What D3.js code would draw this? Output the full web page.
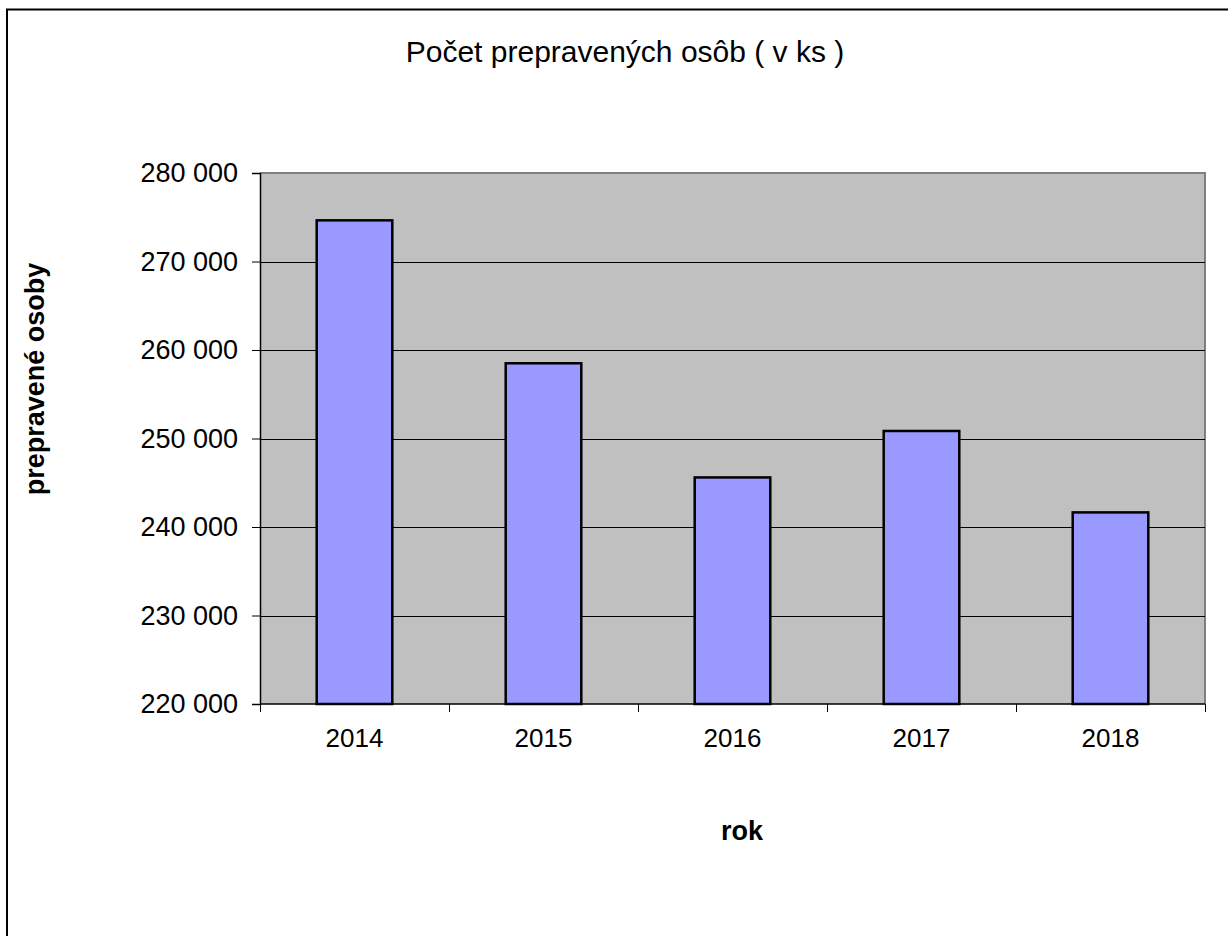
<!DOCTYPE html>
<html>
<head>
<meta charset="utf-8">
<script src="https://cdn.jsdelivr.net/npm/d3@7"></script>
<style>
  html, body { margin: 0; padding: 0; background: #fff; }
  svg text { font-family: "Liberation Sans", Arial, sans-serif; fill: #000; }
</style>
</head>
<body>
<div id="chart"></div>
<script>
// chart data
const years = ['2014', '2015', '2016', '2017', '2018'];
const passengers = [274650, 258500, 245600, 250850, 241650];
const yTicks = [220000, 230000, 240000, 250000, 260000, 270000, 280000];

const chartTitle = 'Počet prepravených osôb ( v ks )';
const xTitle = 'rok';
const yTitle = 'prepravené osoby';

const width = 1228, height = 936;
const plot = { left: 260, top: 173, right: 1205, bottom: 704 };

const svg = d3.select('#chart').append('svg')
    .attr('width', width)
    .attr('height', height);

// outer frame (only top and left edges visible)
svg.append('path')
    .attr('d', `M7,${height + 5} L7,9.5 L${width + 5},9.5`)
    .attr('fill', 'none')
    .attr('stroke', '#000')
    .attr('stroke-width', 2);

const x = d3.scaleBand()
    .domain(years)
    .range([plot.left, plot.right])
    .paddingInner(0.6)
    .paddingOuter(0.3);

const y = d3.scaleLinear()
    .domain([220000, 280000])
    .range([plot.bottom, plot.top]);

// plot background
svg.append('rect')
    .attr('x', plot.left)
    .attr('y', plot.top)
    .attr('width', plot.right - plot.left)
    .attr('height', plot.bottom - plot.top)
    .attr('fill', '#c0c0c0');

// grey border top/right
svg.append('path')
    .attr('d', `M${plot.left},${plot.top} L${plot.right},${plot.top} L${plot.right},${plot.bottom}`)
    .attr('fill', 'none')
    .attr('stroke', '#808080')
    .attr('stroke-width', 2);

// gridlines
svg.append('g')
    .selectAll('line')
    .data(yTicks.slice(1, -1))
    .join('line')
    .attr('x1', plot.left)
    .attr('x2', plot.right)
    .attr('y1', d => Math.round(y(d)) + 0.5)
    .attr('y2', d => Math.round(y(d)) + 0.5)
    .attr('stroke', '#000')
    .attr('stroke-width', 1);

// bars
svg.append('g')
    .selectAll('rect')
    .data(years)
    .join('rect')
    .attr('x', d => x(d))
    .attr('y', (d, i) => y(passengers[i]))
    .attr('width', x.bandwidth())
    .attr('height', (d, i) => y(220000) - y(passengers[i]))
    .attr('fill', '#9999ff')
    .attr('stroke', '#000')
    .attr('stroke-width', 2.5);

// y axis
const yAxis = svg.append('g')
    .attr('transform', `translate(${plot.left},0)`)
    .call(d3.axisLeft(y)
        .tickValues(yTicks)
        .tickSize(8)
        .tickPadding(14)
        .tickFormat(d => d3.format(',')(d).replace(/,/g, ' ')));
yAxis.select('.domain').attr('stroke', '#000').attr('stroke-width', 1.5);
yAxis.selectAll('.tick line').attr('stroke', '#000');
yAxis.selectAll('text')
    .attr('font-size', 27)
    .attr('font-family', '"Liberation Sans", Arial, sans-serif')
    .attr('fill', '#000');

// x axis with ticks between categories
const xAxisG = svg.append('g')
    .attr('transform', `translate(0,${plot.bottom})`);
xAxisG.append('line')
    .attr('x1', plot.left).attr('x2', plot.right)
    .attr('y1', 0).attr('y2', 0)
    .attr('stroke', '#000').attr('stroke-width', 1.5);
const step = x.step();
const boundaries = d3.range(years.length + 1).map(i => plot.left + i * step);
xAxisG.selectAll('.sep')
    .data(boundaries)
    .join('line')
    .attr('class', 'sep')
    .attr('x1', d => Math.round(d) + 0.5)
    .attr('x2', d => Math.round(d) + 0.5)
    .attr('y1', 0).attr('y2', 8)
    .attr('stroke', '#000');
xAxisG.selectAll('.lbl')
    .data(years)
    .join('text')
    .attr('class', 'lbl')
    .attr('x', d => x(d) + x.bandwidth() / 2)
    .attr('y', 43)
    .attr('text-anchor', 'middle')
    .attr('font-size', 26)
    .text(d => d);

// titles
svg.append('text')
    .attr('x', 625)
    .attr('y', 62)
    .attr('text-anchor', 'middle')
    .attr('font-size', 30)
    .text(chartTitle);

svg.append('text')
    .attr('x', 742)
    .attr('y', 840)
    .attr('text-anchor', 'middle')
    .attr('font-size', 27)
    .attr('font-weight', 'bold')
    .text(xTitle);

svg.append('text')
    .attr('transform', 'translate(44,379) rotate(-90)')
    .attr('text-anchor', 'middle')
    .attr('font-size', 27)
    .attr('font-weight', 'bold')
    .text(yTitle);
</script>
</body>
</html>
